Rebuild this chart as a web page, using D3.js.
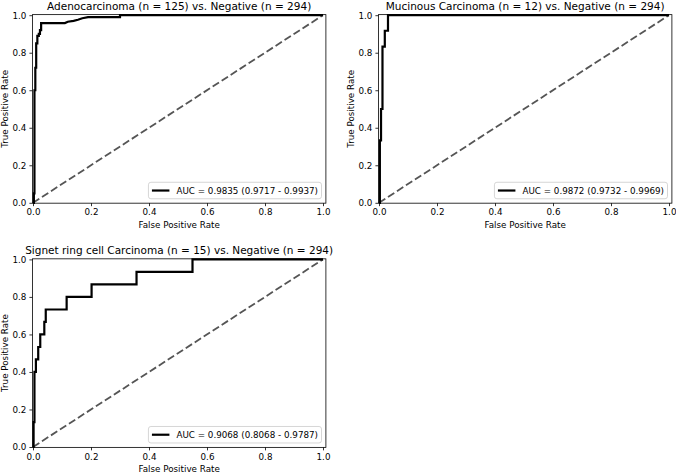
<!DOCTYPE html>
<html>
<head>
<meta charset="utf-8">
<script src="https://cdn.jsdelivr.net/npm/d3@7"></script>
<style>
  body { margin: 0; background: #fff; }
  svg { display: block; font-family: "DejaVu Sans", sans-serif; }
</style>
</head>
<body>
<svg id="chart" width="676" height="473"></svg>
<script>
// roc curve vertices
const adenoFpr = [0, 0.003, 0.003, 0.005, 0.005, 0.008, 0.008, 0.011, 0.011, 0.015, 0.015, 0.02, 0.02, 0.024, 0.024, 0.028, 0.028, 0.11, 0.12, 0.14, 0.155, 0.17, 0.19, 0.3, 0.3, 1];
const adenoTpr = [0, 0, 0.05, 0.05, 0.6, 0.6, 0.72, 0.72, 0.85, 0.85, 0.89, 0.89, 0.9, 0.9, 0.92, 0.92, 0.958, 0.958, 0.965, 0.97, 0.976, 0.984, 0.99, 0.99, 1, 1];

const mucFpr = [0, 0.003, 0.003, 0.007, 0.007, 0.012, 0.012, 0.02, 0.02, 0.031, 0.031, 1];
const mucTpr = [0, 0, 0.333, 0.333, 0.5, 0.5, 0.833, 0.833, 0.917, 0.917, 1, 1];

const signetFpr = [0, 0.002, 0.002, 0.005, 0.005, 0.01, 0.01, 0.018, 0.018, 0.025, 0.025, 0.039, 0.039, 0.044, 0.044, 0.116, 0.116, 0.202, 0.202, 0.357, 0.357, 0.55, 0.55, 1];
const signetTpr = [0, 0, 0.133, 0.133, 0.4, 0.4, 0.467, 0.467, 0.533, 0.533, 0.6, 0.6, 0.667, 0.667, 0.733, 0.733, 0.8, 0.8, 0.867, 0.867, 0.933, 0.933, 1, 1];

const titles = [
  "Adenocarcinoma (n = 125) vs. Negative (n = 294)",
  "Mucinous Carcinoma (n = 12) vs. Negative (n = 294)",
  "Signet ring cell Carcinoma (n = 15) vs. Negative (n = 294)"
];
const aucLabels = [
  "AUC = 0.9835 (0.9717 - 0.9937)",
  "AUC = 0.9872 (0.9732 - 0.9969)",
  "AUC = 0.9068 (0.8068 - 0.9787)"
];
const tickVals = [0, 0.2, 0.4, 0.6, 0.8, 1.0];
const tickLabels = ["0.0", "0.2", "0.4", "0.6", "0.8", "1.0"];

const curves = [
  {fpr: adenoFpr, tpr: adenoTpr},
  {fpr: mucFpr, tpr: mucTpr},
  {fpr: signetFpr, tpr: signetTpr}
];

// where each axes sits (pixel of the 0,0 corner)
const origins = [[33, 202.8], [379, 202.8], [33, 447]];
const unitX = 290, unitY = 187.6;
const fs = 8.75;

const svg = d3.select('#chart');

curves.forEach((c, i) => {
  const [ox, oy] = origins[i];
  const x = d3.scaleLinear().domain([0, 1]).range([ox, ox + unitX]);
  const y = d3.scaleLinear().domain([0, 1]).range([oy, oy - unitY]);
  const left = x(-0.002), right = x(1.01), top = y(1.003), bottom = y(-0.002);
  const g = svg.append('g');

  // diagonal
  g.append('line')
    .attr('x1', x(0)).attr('y1', y(0)).attr('x2', x(1)).attr('y2', y(1))
    .attr('stroke', '#555').attr('stroke-width', 1.8)
    .attr('stroke-dasharray', '7.5,3.2');

  const line = d3.line().x(d => x(d[0])).y(d => y(d[1]));
  g.append('path')
    .datum(c.fpr.map((f, k) => [f, c.tpr[k]]))
    .attr('d', line)
    .attr('fill', 'none').attr('stroke', '#000').attr('stroke-width', 2.2)
    .attr('stroke-linejoin', 'miter');

  // frame
  g.append('rect')
    .attr('x', left).attr('y', top).attr('width', right - left).attr('height', bottom - top)
    .attr('fill', 'none').attr('stroke', '#000').attr('stroke-width', 0.8);

  // ticks
  const xa = d3.axisBottom(x).tickValues(tickVals).tickFormat((d, k) => tickLabels[k]).tickSize(3).tickPadding(3);
  const ya = d3.axisLeft(y).tickValues(tickVals).tickFormat((d, k) => tickLabels[k]).tickSize(3).tickPadding(3);
  const gx = g.append('g').attr('transform', `translate(0,${bottom})`).call(xa);
  const gy = g.append('g').attr('transform', `translate(${left},0)`).call(ya);
  [gx, gy].forEach(a => {
    a.select('.domain').remove();
    a.selectAll('line').attr('stroke', '#000').attr('stroke-width', 0.8);
    a.selectAll('text').attr('font-size', fs).attr('font-family', '"DejaVu Sans", sans-serif').attr('fill', '#000');
  });

  const cx = (left + right) / 2;
  g.append('text').attr('x', cx).attr('y', top - 4.9)
    .attr('text-anchor', 'middle').attr('font-size', 10.5).text(titles[i]);
  g.append('text').attr('x', cx).attr('y', bottom + 24.5)
    .attr('text-anchor', 'middle').attr('font-size', fs).text('False Positive Rate');
  g.append('text')
    .attr('transform', `translate(${left - 24},${(top + bottom) / 2}) rotate(-90)`)
    .attr('text-anchor', 'middle').attr('font-size', fs).text('True Positive Rate');

  // legend, lower right
  const lg = g.append('g');
  const box = lg.append('rect');
  const txt = lg.append('text').attr('font-size', fs).text(aucLabels[i]);
  const tw = txt.node().getComputedTextLength();
  const bw = tw + 3.6 * fs, bh = 16.5;
  const bx = right - 4.4 - bw, by = bottom - 4.4 - bh;
  box.attr('x', bx).attr('y', by).attr('width', bw).attr('height', bh)
    .attr('rx', 2.5).attr('fill', 'rgba(255,255,255,0.8)').attr('stroke', '#ccc').attr('stroke-width', 0.8);
  lg.append('line')
    .attr('x1', bx + 0.4 * fs).attr('x2', bx + 2.4 * fs)
    .attr('y1', by + bh / 2).attr('y2', by + bh / 2)
    .attr('stroke', '#000').attr('stroke-width', 2.2);
  txt.attr('x', bx + 3.2 * fs).attr('y', by + bh / 2 + 3.2);
});
</script>
</body>
</html>
